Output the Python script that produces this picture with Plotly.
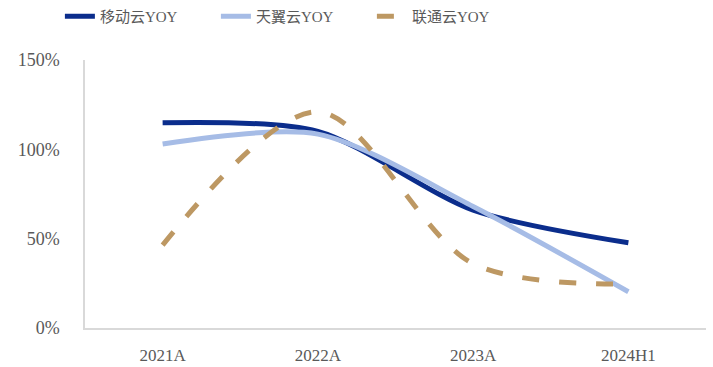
import plotly.graph_objects as go

categories = ["2021A", "2022A", "2023A", "2024H1"]
yidong = [114.9, 110.0, 66.0, 47.7]
tianyi = [103.0, 108.5, 68.0, 20.3]
liantong = [46.4, 121.0, 36.0, 24.6]
y_ticks = [0, 50, 100, 150]
y_tick_labels = ["0%", "50%", "100%", "150%"]

FONT = "Liberation Serif, Noto Sans CJK SC, serif"
TXT = "#595959"

fig = go.Figure()
fig.add_trace(go.Scatter(x=categories, y=yidong, name="移动云YOY", mode="lines",
                         line=dict(color="#0B2D8C", width=5, shape="spline", smoothing=0.8)))
fig.add_trace(go.Scatter(x=categories, y=tianyi, name="天翼云YOY", mode="lines",
                         line=dict(color="#A6BCE6", width=5, shape="spline", smoothing=0.8)))
fig.add_trace(go.Scatter(x=categories, y=liantong, name="联通云YOY", mode="lines",
                         line=dict(color="#BD9863", width=5, shape="spline", smoothing=0.9,
                                   dash="17px,20px")))

fig.update_layout(
    width=713, height=367,
    margin=dict(l=85, r=7, t=60, b=39, autoexpand=False),
    paper_bgcolor="white", plot_bgcolor="white",
    font=dict(family=FONT, color=TXT, size=18),
    showlegend=True,
    legend=dict(orientation="h", xref="container", yref="container",
                x=0.084, y=1.0, xanchor="left", yanchor="top",
                entrywidth=111, entrywidthmode="pixels",
                font=dict(family=FONT, size=15, color=TXT),
                bgcolor="rgba(0,0,0,0)"),
    xaxis=dict(type="category", range=[-0.5, 3.5], showline=True, linecolor="#D9D9D9",
               linewidth=1.5, showgrid=False, zeroline=False, ticks="", automargin=False,
               ticklabelstandoff=11, tickfont=dict(size=17, color=TXT)),
    yaxis=dict(range=[0, 150], tickvals=y_ticks, ticktext=y_tick_labels,
               showline=True, linecolor="#D9D9D9", linewidth=1.5, showgrid=False,
               zeroline=False, ticks="", ticklabelstandoff=20, automargin=False,
               tickfont=dict(size=18, color=TXT)),
)

fig.write_html("out.html")
